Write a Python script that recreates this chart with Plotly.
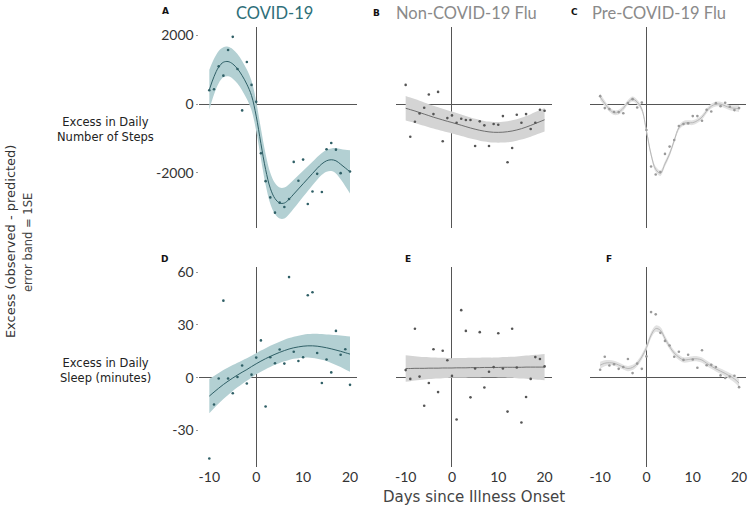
import plotly.graph_objects as go

W, H = 748, 507

days = list(range(-10, 21))

# ---- Steps: observed points ----
steps_covid = [406, 435, 1100, 830, 1575, 1960, 1025, -183, 1228, 560, 67,
               -1430, -2243, -2717, -3160, -2870, -2997, -2765, -1682, -2233, -1615,
               -2910, -2543, -2030, -2561, -1314, -1131, -1325, -2010, None, -1963]
steps_noncovid = [560, -948, -513, -270, -107, 281, -290, 357, -1082, -406, -328,
                  -542, -426, -464, -464, -1218, -502, -618, -1218, -580, -600,
                  -348, -1691, -1276, -310, -542, -290, -725, -542, -165, -194]
steps_precovid = [232, -116, -145, -230, -232, -265, 30, 145, -100, 45, -754,
                  -1817, -2049, -1980, -1450, -1237, -1044, -638, -580, -560, -348,
                  -348, -483, -165, -213, 29, -58, 39, -77, -174, -116]

# ---- Steps: fitted curves and standard errors ----
steps_covid_fit = [420, 800, 1080, 1220, 1240, 1170, 1030, 830, 580, 250, -350,
                   -1150, -1900, -2450, -2750, -2880, -2880, -2770, -2620, -2470, -2320,
                   -2170, -2020, -1870, -1740, -1650, -1620, -1650, -1750, -1860, -1970]
steps_covid_se = [580, 520, 470, 440, 430, 430, 430, 430, 430, 430, 430,
                  440, 450, 450, 450, 450, 450, 440, 420, 400, 380,
                  360, 340, 330, 320, 320, 330, 370, 440, 530, 630]
steps_noncovid_fit = [-120, -160, -200, -245, -290, -335, -380, -420, -460, -500, -535,
                      -575, -615, -655, -695, -730, -762, -788, -808, -820, -822,
                      -817, -803, -782, -752, -715, -670, -620, -565, -510, -455]
steps_noncovid_se = [360, 355, 350, 345, 340, 335, 330, 327, 324, 322, 320,
                     316, 312, 308, 305, 303, 301, 300, 300, 300, 301,
                     303, 306, 310, 314, 318, 323, 328, 333, 339, 345]
steps_precovid_fit = [210, 20, -150, -250, -230, -120, 50, 150, 60, -150, -780,
                      -1470, -1900, -2010, -1740, -1450, -1060, -690, -560, -540, -540,
                      -480, -380, -200, -60, 0, 0, -50, -100, -120, -130]
steps_precovid_se = [100, 85, 75, 70, 70, 70, 70, 70, 70, 70, 75,
                     80, 80, 80, 80, 75, 70, 70, 70, 70, 70,
                     70, 70, 70, 70, 70, 70, 70, 75, 85, 100]

# ---- Sleep: observed points ----
sleep_covid = [-46, -15.3, -0.5, 43.8, -0.5, -8.9, 0.4, 6.9, -3.3, 1.7, 11.4,
               21.2, -16.4, 11.6, 8.2, 16, 8, 57.2, 14.7, 9.5, 11.6,
               46.9, 48.6, 14, -3, 10.3, 3, 26.6, 13, 16.2, -4.1]
sleep_noncovid = [4.3, -0.7, 27.8, 0.6, -16, -3, 16.2, -8.2, 15.3, 9.9, 1,
                  -23.8, 38.4, 26.6, -11.2, 5.2, 25.9, -5.6, 3.4, 6, 25.3,
                  5.2, -19.3, 27.8, 5.8, -25.5, -11, -0.7, 11.7, 10.6, 6.4]
sleep_precovid = [4.5, 11.9, 6.9, 7.6, 5, 6.1, 10.6, 2.6, 8, 5, 12.1,
                  37.3, 36, 25.5, 20.9, 18.3, 11.9, 14.7, 10.1, 13, 10.3,
                  5.6, 15.6, 7.1, 7.3, 6.1, 1.3, -0.2, 0.7, 1.1, -5.4]

# ---- Sleep: fitted curves and standard errors ----
sleep_covid_fit = [-10.5, -8.2, -6.0, -3.9, -2.0, -0.2, 1.5, 3.1, 4.6, 6.3, 7.9,
                   9.4, 10.8, 12.1, 13.3, 14.4, 15.4, 16.3, 17.0, 17.5, 17.9,
                   18.1, 18.1, 17.9, 17.5, 17.0, 16.4, 15.7, 15.0, 14.2, 13.4]
sleep_covid_se = [9.8, 9.2, 8.7, 8.2, 7.8, 7.4, 7.0, 6.7, 6.4, 6.2, 6.0,
                  6.0, 6.0, 6.0, 6.0, 6.0, 6.1, 6.2, 6.3, 6.4, 6.5,
                  6.7, 6.9, 7.1, 7.3, 7.5, 8.0, 8.5, 9.0, 9.5, 10.0]
sleep_noncovid_fit = [5.2, 5.2, 5.3, 5.3, 5.3, 5.4, 5.4, 5.4, 5.5, 5.5, 5.5,
                      5.6, 5.6, 5.6, 5.7, 5.7, 5.7, 5.8, 5.8, 5.8, 5.8,
                      5.9, 5.9, 5.9, 5.9, 5.9, 6.0, 6.0, 6.0, 6.0, 6.0]
sleep_noncovid_se = [7.5, 7.2, 6.9, 6.6, 6.4, 6.2, 6.0, 5.9, 5.8, 5.7, 5.6,
                     5.6, 5.6, 5.6, 5.6, 5.6, 5.6, 5.6, 5.6, 5.6, 5.7,
                     5.8, 5.9, 6.0, 6.2, 6.4, 6.6, 6.8, 7.0, 7.2, 7.5]
sleep_precovid_fit = [7.1, 8.2, 8.5, 8.2, 7.2, 6.0, 5.2, 5.8, 8.0, 11.8, 17.1,
                      24.2, 27.9, 27.0, 22.3, 17.7, 14.0, 11.6, 10.1, 10.3, 10.7,
                      10.7, 10.0, 8.2, 6.5, 5.0, 3.7, 2.4, 0.9, -0.7, -3.1]
sleep_precovid_se = [2.0, 1.7, 1.5, 1.4, 1.4, 1.4, 1.5, 1.5, 1.5, 1.6, 1.7,
                     1.8, 1.8, 1.8, 1.7, 1.6, 1.5, 1.5, 1.5, 1.5, 1.5,
                     1.5, 1.5, 1.5, 1.5, 1.5, 1.5, 1.6, 1.8, 2.0, 2.3]

col_titles = ["COVID-19", "Non-COVID-19 Flu", "Pre-COVID-19 Flu"]
panel_letters = ["A", "B", "C", "D", "E", "F"]
row_labels = ["Excess in Daily<br>Number of Steps", "Excess in Daily<br>Sleep (minutes)"]
steps_ticks = [-2000, 0, 2000]
steps_ticktext = ["-2000", "0", "2000"]
sleep_ticks = [-30, 0, 30, 60]
sleep_ticktext = ["-30", "0", "30", "60"]
x_ticks = [-10, 0, 10, 20]
x_ticktext = ["-10", "0", "10", "20"]

# ---- styling ----
styles = [
    dict(band="#b3d0d3", line="#2f5f66", pt="#2f5f66", title="#2e6f79"),
    dict(band="#d4d4d4", line="#6e6e6e", pt="#555555", title="#8a8a8a"),
    dict(band="#e2e2e2", line="#b8b8b8", pt="#9a9a9a", title="#8a8a8a"),
]

xcols = [(199, 357), (396, 552), (591, 747)]
yrows = [(23, 226), (265, 467)]
xr = [-12.1, 21.5]
yranges = [[-3614, 2252], [-51, 63]]

panels = [
    [(steps_covid, steps_covid_fit, steps_covid_se),
     (steps_noncovid, steps_noncovid_fit, steps_noncovid_se),
     (steps_precovid, steps_precovid_fit, steps_precovid_se)],
    [(sleep_covid, sleep_covid_fit, sleep_covid_se),
     (sleep_noncovid, sleep_noncovid_fit, sleep_noncovid_se),
     (sleep_precovid, sleep_precovid_fit, sleep_precovid_se)],
]

fig = go.Figure()
layout = {}
annotations = []
FONT = "Lato"

for r in range(2):
    for c in range(3):
        i = r * 3 + c + 1
        xa = "x" if i == 1 else f"x{i}"
        ya = "y" if i == 1 else f"y{i}"
        obs, fit, se = panels[r][c]
        st = styles[c]
        upper = [f + s for f, s in zip(fit, se)]
        lower = [f - s for f, s in zip(fit, se)]
        fig.add_trace(go.Scatter(x=days, y=upper, mode="lines", line=dict(width=0, shape="spline"),
                                 hoverinfo="skip", showlegend=False, xaxis=xa, yaxis=ya))
        fig.add_trace(go.Scatter(x=days, y=lower, mode="lines", line=dict(width=0, shape="spline"),
                                 fill="tonexty", fillcolor=st["band"], hoverinfo="skip",
                                 showlegend=False, xaxis=xa, yaxis=ya))
        fig.add_trace(go.Scatter(x=days, y=fit, mode="lines", line=dict(width=1, color=st["line"], shape="spline"),
                                 showlegend=False, xaxis=xa, yaxis=ya))
        fig.add_trace(go.Scatter(x=days, y=obs, mode="markers", marker=dict(size=2.6, color=st["pt"]),
                                 showlegend=False, xaxis=xa, yaxis=ya))
        x0, x1 = xcols[c]
        y0, y1 = yrows[r]
        layout["xaxis" if i == 1 else f"xaxis{i}"] = dict(
            domain=[x0 / W, x1 / W], range=xr, anchor=ya, showgrid=False,
            zeroline=True, zerolinecolor="#555", zerolinewidth=1, showline=False,
            tickvals=x_ticks, ticktext=x_ticktext, showticklabels=(r == 1), ticks="",
            tickfont=dict(family=FONT, size=14, color="#333"))
        layout["yaxis" if i == 1 else f"yaxis{i}"] = dict(
            domain=[1 - y1 / H, 1 - y0 / H], range=yranges[r], anchor=xa, showgrid=False,
            zeroline=True, zerolinecolor="#555", zerolinewidth=1, showline=False,
            tickvals=steps_ticks if r == 0 else sleep_ticks,
            ticktext=steps_ticktext if r == 0 else sleep_ticktext,
            showticklabels=(c == 0), ticks="outside" if c == 0 else "", ticklen=2,
            tickcolor="#999", tickfont=dict(family=FONT, size=14, color="#333"))

# titles
title_x = [274, 467, 660]
for c in range(3):
    annotations.append(dict(text=col_titles[c], x=title_x[c] / W, y=1 - 9 / H, xref="paper", yref="paper",
                            showarrow=False, xanchor="center", yanchor="middle",
                            font=dict(family=FONT, size=16.5, color=styles[c]["title"])))

letter_pos = [(165, 7), (377, 9), (575, 8), (164, 257), (408, 257), (610, 257)]
for L, (px, py) in zip(panel_letters, letter_pos):
    annotations.append(dict(text=f"<b>{L}</b>", x=px / W, y=1 - py / H, xref="paper", yref="paper",
                            showarrow=False, xanchor="center", yanchor="middle",
                            font=dict(family="DejaVu Sans", size=9, color="#111")))

row_y = [127, 369]
for t, py in zip(row_labels, row_y):
    annotations.append(dict(text=t, x=105 / W, y=1 - py / H, xref="paper", yref="paper",
                            showarrow=False, xanchor="center", yanchor="middle", align="center",
                            font=dict(family="DejaVu Sans", size=11.5, color="#222")))

annotations.append(dict(text="Excess (observed - predicted)", x=9 / W, y=1 - 239 / H, xref="paper", yref="paper",
                        showarrow=False, textangle=-90, xanchor="center", yanchor="middle",
                        font=dict(family="DejaVu Sans", size=13, color="#333")))
annotations.append(dict(text="error band = 1SE", x=27 / W, y=1 - 240 / H, xref="paper", yref="paper",
                        showarrow=False, textangle=-90, xanchor="center", yanchor="middle",
                        font=dict(family="DejaVu Sans", size=11.5, color="#444")))
annotations.append(dict(text="Days since Illness Onset", x=474 / W, y=1 - 497 / H, xref="paper", yref="paper",
                        showarrow=False, xanchor="center", yanchor="middle",
                        font=dict(family="DejaVu Sans", size=15, color="#444")))

fig.update_layout(width=W, height=H, margin=dict(l=0, r=0, t=0, b=0),
                  plot_bgcolor="white", paper_bgcolor="white",
                  annotations=annotations, **layout)

fig.write_html("out.html", config={"displayModeBar": False},
               post_script="document.body.style.margin='0';document.body.style.overflow='hidden';")
